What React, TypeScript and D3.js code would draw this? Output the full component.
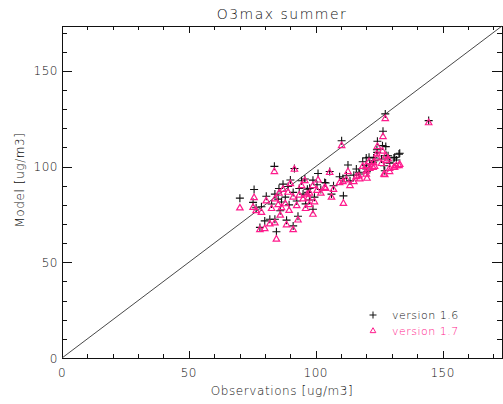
import React from "react";
import * as d3 from "d3";

const W = 503;
const H = 404;
const TITLE = "O3max summer";
const X_LABEL = "Observations [ug/m3]";
const Y_LABEL = "Model [ug/m3]";
const SERIES_NAMES = ["version 1.6", "version 1.7"];
const AXIS_MAX = 173.4;
const MAJOR_TICKS = [0, 50, 100, 150];
const MINOR_TICKS = [10, 20, 30, 40, 60, 70, 80, 90, 110, 120, 130, 140, 160, 170];

const observations = [
  70.1, 75.7, 75.3, 76.5, 78.6, 79.9, 78.0, 81.9, 83.9, 84.5,
  83.7, 83.9, 85.2, 82.6, 86.0, 87.1, 89.1, 91.1, 91.1, 91.6,
  88.0, 86.5, 89.5, 92.5, 94.4, 95.0, 95.7, 96.7, 97.0, 97.6,
  98.9, 98.9, 96.0, 97.5, 99.5, 100.9, 103.5, 103.9, 105.5, 106.2,
  110.9, 110.2, 109.4, 110.7, 112.1, 112.7, 116.0, 117.0, 117.3, 119.9,
  119.9, 120.2, 119.9, 121.3, 122.6, 122.8, 123.2, 124.1, 124.3, 124.2,
  125.9, 126.3, 127.6, 126.5, 127.4, 127.8, 128.5, 127.2, 126.9, 129.1,
  129.1, 130.8, 131.1, 131.8, 132.8, 133.1, 144.5, 115.0, 113.5, 107.0,
  102.0, 100.5, 93.5, 90.0, 85.5, 80.5, 93.0, 88.5, 118.5, 121.0,
];

const modelV16 = [
  83.5, 88.0, 81.3, 78.5, 79.0, 71.6, 68.2, 72.5, 72.5, 65.9,
  100.1, 85.6, 83.0, 80.4, 76.9, 90.8, 89.6, 86.5, 69.0, 99.0,
  84.0, 81.5, 80.0, 82.0, 92.6, 85.6, 93.5, 88.2, 86.5, 88.6,
  92.9, 77.7, 80.5, 82.5, 84.0, 96.4, 91.7, 91.4, 97.4, 85.6,
  84.7, 113.5, 94.7, 93.8, 95.2, 100.8, 98.7, 97.0, 96.1, 98.7,
  100.4, 97.3, 104.5, 101.3, 102.2, 104.5, 103.0, 108.8, 113.2, 107.4,
  103.9, 110.9, 110.4, 118.4, 127.5, 105.7, 105.6, 97.8, 100.4, 102.2,
  101.7, 104.5, 104.8, 103.4, 106.5, 106.9, 124.0, 95.5, 92.5, 90.0,
  88.0, 90.5, 88.5, 93.0, 88.5, 84.5, 74.0, 72.0, 102.5, 104.8,
];

const modelV17 = [
  78.3, 83.7, 78.6, 76.9, 76.0, 67.5, 67.0, 70.0, 70.5, 62.0,
  97.3, 83.0, 80.0, 78.0, 74.5, 88.0, 86.5, 84.0, 67.0, 98.5,
  80.5, 78.5, 77.0, 79.5, 90.0, 83.0, 92.6, 85.5, 83.5, 86.0,
  90.0, 75.0, 78.0, 80.0, 81.5, 92.9, 89.0, 88.5, 96.8, 83.9,
  80.7, 110.9, 91.5, 92.0, 93.0, 97.3, 94.7, 95.0, 93.5, 96.0,
  97.5, 93.8, 100.4, 99.0, 99.5, 102.0, 100.0, 106.5, 110.4, 104.5,
  101.5, 108.0, 105.5, 115.6, 125.0, 103.0, 104.0, 95.7, 96.0, 97.3,
  99.0, 99.5, 99.6, 100.4, 100.4, 101.0, 122.8, 92.0, 90.0, 88.0,
  86.0, 87.5, 85.0, 91.0, 86.0, 82.0, 72.0, 69.5, 100.0, 102.5,
];

const M = { left: 62, right: 502, top: 26, bottom: 358 };
const FONT = "'DejaVu Sans', sans-serif";
const TEXT = "#111";
const PINK = "#ff1a8c";

export default function App() {
  const x = d3.scaleLinear().domain([0, AXIS_MAX]).range([M.left, M.right]);
  const y = d3.scaleLinear().domain([0, AXIS_MAX]).range([M.bottom, M.top]);
  const cross = (cx: number, cy: number, s: number) =>
    `M${cx - s},${cy}H${cx + s}M${cx},${cy - s}V${cy + s}`;
  const tri = d3.symbol().type(d3.symbolTriangle).size(18);

  const xMaj = 7, xMin = 4, yMaj = 10, yMin = 5;

  return (
    <svg
      width={W}
      height={H}
      style={{ position: "absolute", left: 0, top: 0, background: "#fff" }}
    >
      <rect x={0} y={0} width={W} height={H} fill="#fff" />
      <text x={282} y={19} textAnchor="middle" fontFamily={FONT} fontSize={14} fill={TEXT} letterSpacing={1.5} fontWeight={300}>
        {TITLE}
      </text>
      <rect x={M.left} y={M.top} width={M.right - M.left} height={M.bottom - M.top} fill="none" stroke="#111" strokeWidth={1} shapeRendering="crispEdges" />
      {MAJOR_TICKS.concat(MINOR_TICKS).map((t) => {
        const len = MAJOR_TICKS.includes(t) ? xMaj : xMin;
        const px = Math.round(x(t)) + 0.5;
        return (
          <g key={"x" + t} stroke="#111" strokeWidth={1}>
            <line x1={px} x2={px} y1={M.bottom} y2={M.bottom - len} />
            <line x1={px} x2={px} y1={M.top} y2={M.top + len} />
          </g>
        );
      })}
      {MAJOR_TICKS.concat(MINOR_TICKS).map((t) => {
        const len = MAJOR_TICKS.includes(t) ? yMaj : yMin;
        const py = Math.round(y(t)) + 0.5;
        return (
          <g key={"y" + t} stroke="#111" strokeWidth={1}>
            <line x1={M.left} x2={M.left + len} y1={py} y2={py} />
            <line x1={M.right} x2={M.right - len} y1={py} y2={py} />
          </g>
        );
      })}
      {MAJOR_TICKS.map((t) => (
        <text key={"xl" + t} x={x(t)} y={377} textAnchor="middle" fontFamily={FONT} fontSize={12} fill={TEXT} fontWeight={300} letterSpacing={0.5}>
          {t}
        </text>
      ))}
      {MAJOR_TICKS.map((t) => (
        <text key={"yl" + t} x={58} y={y(t) + 4.5} textAnchor="end" fontFamily={FONT} fontSize={12} fill={TEXT} fontWeight={300} letterSpacing={0.5}>
          {t}
        </text>
      ))}
      <text x={282} y={395} textAnchor="middle" fontFamily={FONT} fontSize={12} fill={TEXT} fontWeight={300} letterSpacing={0.6}>
        {X_LABEL}
      </text>
      <text transform={`translate(24,180) rotate(-90)`} textAnchor="middle" fontFamily={FONT} fontSize={12} fill={TEXT} fontWeight={300} letterSpacing={0.6}>
        {Y_LABEL}
      </text>
      <line x1={x(0)} y1={y(0)} x2={x(AXIS_MAX)} y2={y(AXIS_MAX)} stroke="#333" strokeWidth={0.9} />
      <g stroke="#111" strokeWidth={1.1} fill="none">
        {observations.map((o, i) => (
          <path key={"a" + i} d={cross(x(o), y(modelV16[i]), 4)} />
        ))}
      </g>
      <g stroke={PINK} strokeWidth={1.2} fill="none">
        {observations.map((o, i) => (
          <path key={"b" + i} d={tri() as string} transform={`translate(${x(o)},${y(modelV17[i])})`} />
        ))}
      </g>
      <path d={cross(373, 315, 3.5)} stroke="#111" strokeWidth={1} fill="none" />
      <text x={392} y={319} fontFamily={FONT} fontSize={11} fill={TEXT} fontWeight={300} letterSpacing={0.5}>
        {SERIES_NAMES[0]}
      </text>
      <path d={d3.symbol().type(d3.symbolTriangle).size(14)() as string} transform="translate(373,331)" stroke={PINK} strokeWidth={1} fill="none" />
      <text x={392} y={335} fontFamily={FONT} fontSize={11} fill={PINK} fontWeight={300} letterSpacing={0.5}>
        {SERIES_NAMES[1]}
      </text>
    </svg>
  );
}
